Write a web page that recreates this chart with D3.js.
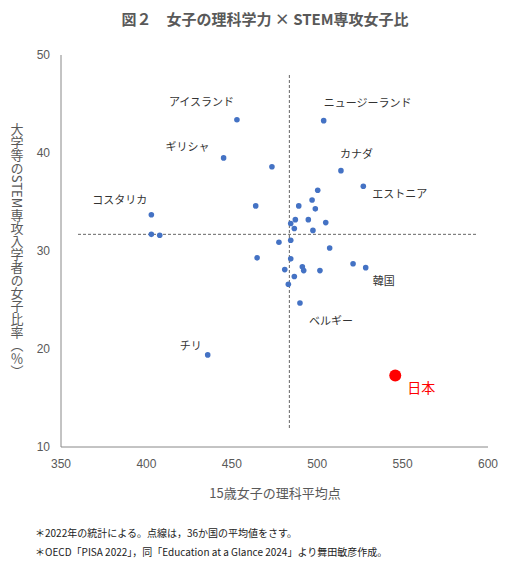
<!DOCTYPE html>
<html><head><meta charset="utf-8">
<script src="https://cdn.jsdelivr.net/npm/d3@7"></script>
<style>body{margin:0;background:#fff;font-family:"Noto Sans CJK JP",sans-serif}</style>
</head><body><svg id="c" width="507" height="573"></svg>
<script>
const xs=[453.0,503.8,445.2,473.5,513.9,527.0,500.3,497.0,464.0,489.2,498.9,402.9,487.2,494.8,505.0,484.5,486.6,497.5,402.9,407.8,484.5,477.6,507.3,464.8,484.5,521.0,528.4,491.3,492.1,481.0,501.6,486.6,483.1,489.9,435.9];
const ys=[43.4,43.3,39.5,38.6,38.2,36.6,36.2,35.2,34.6,34.6,34.3,33.7,33.2,33.2,32.9,32.8,32.3,32.1,31.7,31.6,31.1,30.9,30.3,29.3,29.2,28.7,28.3,28.4,28.0,28.1,28.0,27.4,26.6,24.7,19.4];
const japan=[545.7,17.3];
const meanX=483.7, meanY=31.7;
const xTicks=[350,400,450,500,550,600];
const yTicks=[10,20,30,40,50];
const labelNames=["アイスランド","ニュージーランド","ギリシャ","カナダ","エストニア","コスタリカ","韓国","ベルギー","チリ"];
const labelPts=[[453.0,43.4],[503.8,43.3],[445.2,39.5],[513.9,38.2],[527.0,36.6],[402.9,33.7],[528.4,28.3],[489.9,24.7],[435.9,19.4]];
const labelOff=[[-68,-14],[0,-14],[-58,-7],[-1,-13],[9,12],[-59,-11],[7,17],[9,22],[-28,-5]];

const svg=d3.select("#c");
const x=d3.scaleLinear().domain([350,600]).range([61,488]);
const y=d3.scaleLinear().domain([10,50]).range([447,55]);
const g="#888";
svg.append("line").attr("x1",61).attr("x2",61).attr("y1",55).attr("y2",447).attr("stroke",g);
svg.append("line").attr("x1",61).attr("x2",488).attr("y1",447).attr("y2",447).attr("stroke",g);
svg.selectAll(".xt").data(xTicks).join("text").attr("x",d=>x(d)).attr("y",468).attr("text-anchor","middle").attr("font-size",12).attr("fill","#595959").attr("font-family","Liberation Sans, sans-serif").text(d=>d);
svg.selectAll(".yt").data(yTicks).join("text").attr("x",50).attr("y",d=>y(d)+4).attr("text-anchor","end").attr("font-size",12).attr("fill","#595959").attr("font-family","Liberation Sans, sans-serif").text(d=>d);
svg.append("line").attr("x1",x(meanX)).attr("x2",x(meanX)).attr("y1",75).attr("y2",430).attr("stroke","#555").attr("stroke-dasharray","3,2").attr("stroke-width",0.9);
svg.append("line").attr("x1",78).attr("x2",478).attr("y1",y(meanY)).attr("y2",y(meanY)).attr("stroke","#555").attr("stroke-dasharray","3,2").attr("stroke-width",0.9);
svg.selectAll(".p").data(xs.map((v,i)=>[v,ys[i]])).join("circle").attr("cx",d=>x(d[0])).attr("cy",d=>y(d[1])).attr("r",2.8).attr("fill","#4472C4");
svg.append("circle").attr("cx",x(japan[0])).attr("cy",y(japan[1])).attr("r",6).attr("fill","#FF0000");
svg.append("text").attr("x",x(japan[0])+12).attr("y",y(japan[1])+18).attr("fill","#FF0000").attr("font-size",14).text("日本");
labelNames.forEach((n,i)=>{
  svg.append("text").attr("x",x(labelPts[i][0])+labelOff[i][0]).attr("y",y(labelPts[i][1])+labelOff[i][1]).attr("font-size",11).attr("fill","#333").text(n);
});
svg.append("text").attr("x",265).attr("y",25).attr("text-anchor","middle").attr("font-size",15).attr("font-weight","bold").attr("fill","#595959").text("図２　女子の理科学力 × STEM専攻女子比");
svg.append("text").attr("x",275).attr("y",498).attr("text-anchor","middle").attr("font-size",13).attr("fill","#595959").text("15歳女子の理科平均点");
svg.append("text").attr("x",17).attr("y",250).attr("text-anchor","middle").attr("font-size",13).attr("fill","#595959").style("writing-mode","vertical-rl").text("大学等のSTEM専攻入学者の女子比率（％）");
svg.append("text").attr("x",35).attr("y",537).attr("font-size",10).attr("fill","#222").text("＊2022年の統計による。点線は，36か国の平均値をさす。");
svg.append("text").attr("x",35).attr("y",556).attr("font-size",10).attr("fill","#222").text("＊OECD「PISA 2022」，同「Education at a Glance 2024」より舞田敏彦作成。");
</script></body></html>
